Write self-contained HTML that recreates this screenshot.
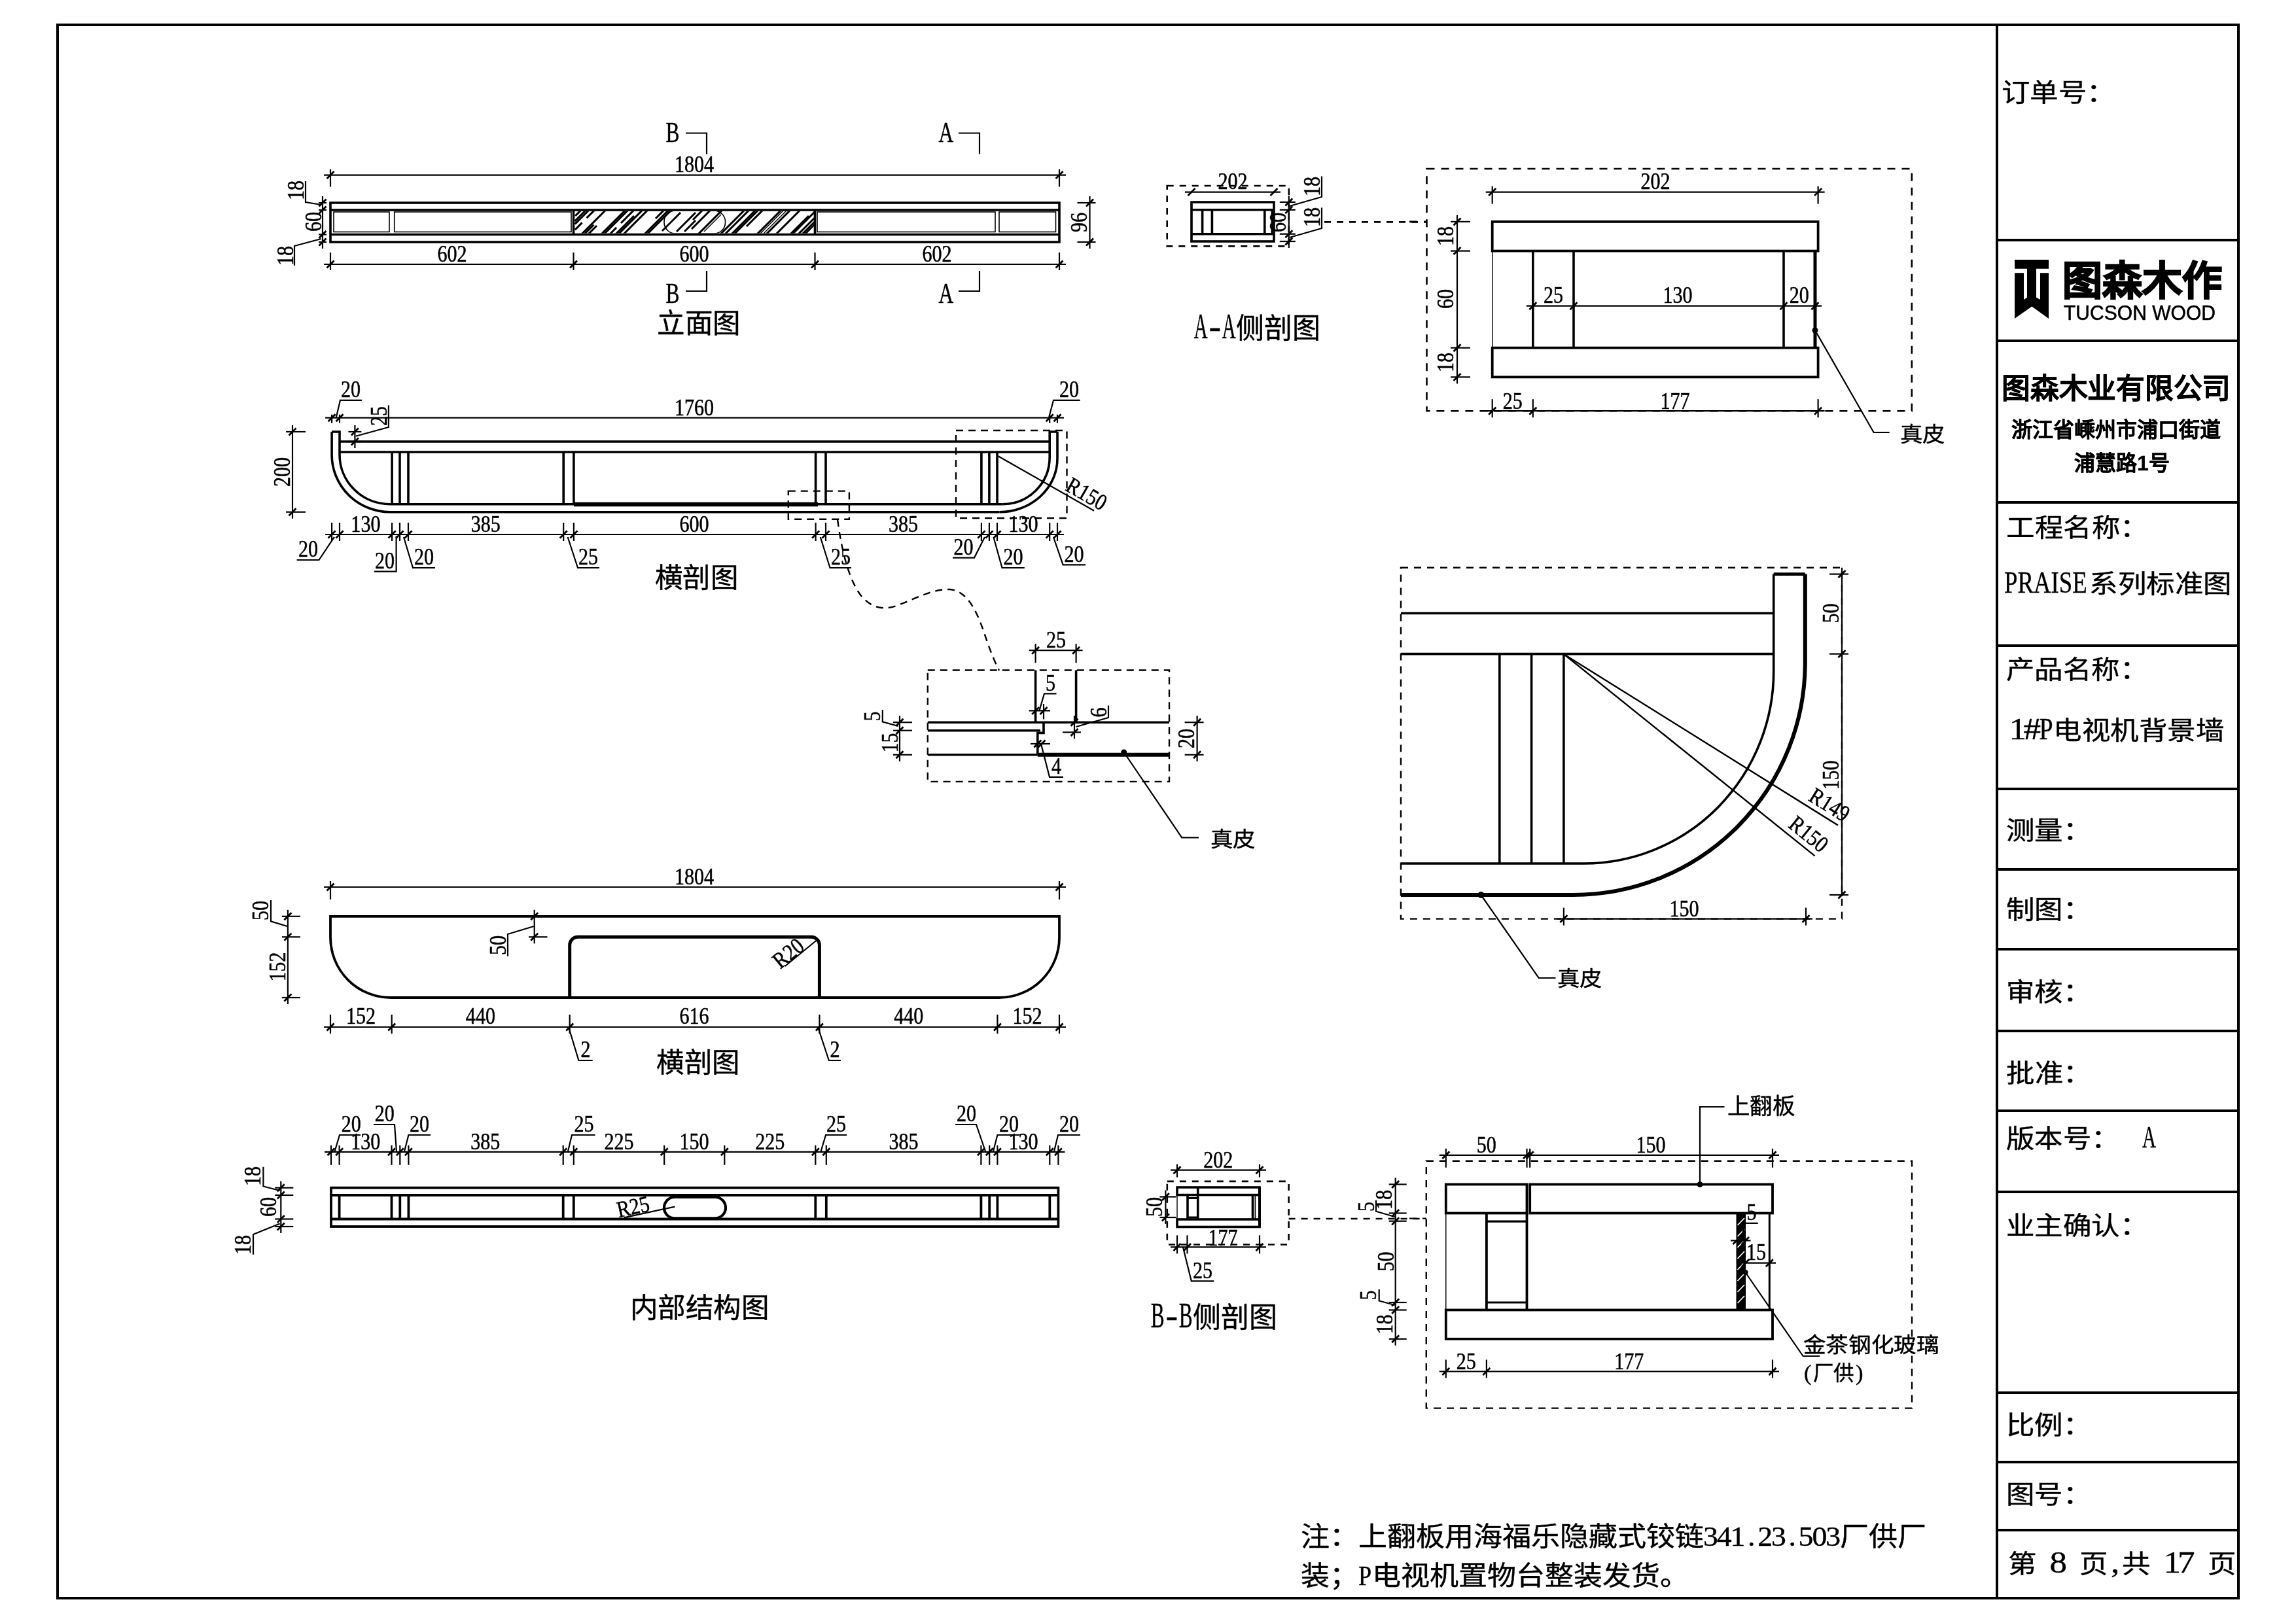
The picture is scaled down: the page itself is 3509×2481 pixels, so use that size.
<!DOCTYPE html>
<html lang="zh-CN"><head><meta charset="utf-8"><style>
html,body{margin:0;padding:0;background:#fff;width:3509px;height:2481px;overflow:hidden}
svg{display:block;will-change:transform}
svg line,svg polyline,svg path,svg rect{stroke:#000;stroke-linecap:butt}
text{fill:#000}
</style></head><body>
<svg width="3509" height="2481" viewBox="0 0 3509 2481">
<rect x="88.0" y="38.0" width="3333.0" height="2405.0" stroke-width="4" fill="none" />
<line x1="3052.0" y1="38.0" x2="3052.0" y2="2443.0" stroke-width="4" />
<line x1="3052.0" y1="367.0" x2="3421.0" y2="367.0" stroke-width="4" />
<line x1="3052.0" y1="521.0" x2="3421.0" y2="521.0" stroke-width="4" />
<line x1="3052.0" y1="768.0" x2="3421.0" y2="768.0" stroke-width="4" />
<line x1="3052.0" y1="987.0" x2="3421.0" y2="987.0" stroke-width="4" />
<line x1="3052.0" y1="1206.0" x2="3421.0" y2="1206.0" stroke-width="4" />
<line x1="3052.0" y1="1329.0" x2="3421.0" y2="1329.0" stroke-width="4" />
<line x1="3052.0" y1="1451.0" x2="3421.0" y2="1451.0" stroke-width="4" />
<line x1="3052.0" y1="1576.0" x2="3421.0" y2="1576.0" stroke-width="4" />
<line x1="3052.0" y1="1698.0" x2="3421.0" y2="1698.0" stroke-width="4" />
<line x1="3052.0" y1="1822.0" x2="3421.0" y2="1822.0" stroke-width="4" />
<line x1="3052.0" y1="2129.0" x2="3421.0" y2="2129.0" stroke-width="4" />
<line x1="3052.0" y1="2235.0" x2="3421.0" y2="2235.0" stroke-width="4" />
<line x1="3052.0" y1="2339.0" x2="3421.0" y2="2339.0" stroke-width="4" />
<text transform="translate(0,154.5) scale(1,0.89)" font-size="43.5" font-family="Liberation Serif" font-weight="normal" stroke="#000" stroke-width="0.45" ><tspan x="3059.0 3102.5 3146.0 3189.5" y="0">订单号：</tspan></text>
<path d="M3079,397H3131V410.8H3079Z M3079,417.2H3093V458L3098,454.7V410.8H3112V454.7L3118,458V417.2H3131V487L3105.3,468.6L3079,487Z" stroke-width="0" fill="#000" stroke="none"/>
<text transform="translate(0,451.2)" font-size="61" font-family="Liberation Sans" font-weight="bold" stroke="#000" stroke-width="2.2" ><tspan x="3152.0 3213.0 3274.0 3335.0" y="0">图森木作</tspan></text>
<text x="3154" y="489" font-size="32" font-family="Liberation Sans" textLength="232" lengthAdjust="spacingAndGlyphs" stroke="#000" stroke-width="0.6">TUCSON WOOD</text>
<text transform="translate(0,608.5)" font-size="43.75" font-family="Liberation Sans" font-weight="bold" stroke="#000" stroke-width="0.4" ><tspan x="3059.0 3102.8 3146.5 3190.2 3234.0 3277.8 3321.5 3365.2" y="0">图森木业有限公司</tspan></text>
<text transform="translate(0,667.6)" font-size="32" font-family="Liberation Sans" font-weight="bold" stroke="#000" stroke-width="0.3" ><tspan x="3074.0 3106.0 3138.0 3170.0 3202.0 3234.0 3266.0 3298.0 3330.0 3362.0" y="0">浙江省嵊州市浦口街道</tspan></text>
<text transform="translate(0,719.4)" font-size="32" font-family="Liberation Sans" font-weight="bold" stroke="#000" stroke-width="0.3" ><tspan x="3170.0 3202.0 3234.0" y="0">浦慧路</tspan><tspan x="3265.9" y="0" font-size="32.0">1</tspan><tspan x="3283.6" y="0">号</tspan></text>
<text transform="translate(0,819.5) scale(1,0.89)" font-size="43.5" font-family="Liberation Serif" font-weight="normal" stroke="#000" stroke-width="0.45" ><tspan x="3066.5 3110.0 3153.5 3197.0 3240.5" y="0">工程名称：</tspan></text>
<text transform="translate(0,905.5) scale(1,0.89)" font-size="43.5" font-family="Liberation Serif" font-weight="normal" stroke="#000" stroke-width="0.45" ><tspan x="3063.0" y="0" font-size="53.1" textLength="126.6" lengthAdjust="spacingAndGlyphs">PRAISE</tspan><tspan x="3193.5 3237.0 3280.5 3324.0 3367.5" y="0">系列标准图</tspan></text>
<text transform="translate(0,1036.5) scale(1,0.89)" font-size="43.5" font-family="Liberation Serif" font-weight="normal" stroke="#000" stroke-width="0.45" ><tspan x="3066.0 3109.5 3153.0 3196.5 3240.0" y="0">产品名称：</tspan></text>
<text transform="translate(0,1130.0) scale(1,0.89)" font-size="43.5" font-family="Liberation Serif" font-weight="normal" stroke="#000" stroke-width="0.45" ><tspan x="3070.6 3092.4" y="0" font-size="53.1">1#</tspan><tspan x="3116.5" y="0" font-size="53.1" textLength="21.1" lengthAdjust="spacingAndGlyphs">P</tspan><tspan x="3138.2 3181.8 3225.2 3268.8 3312.2 3355.8" y="0">电视机背景墙</tspan></text>
<text transform="translate(0,1282.5) scale(1,0.89)" font-size="43.5" font-family="Liberation Serif" font-weight="normal" stroke="#000" stroke-width="0.45" ><tspan x="3066.0 3109.5 3153.0" y="0">测量：</tspan></text>
<text transform="translate(0,1403.5) scale(1,0.89)" font-size="43.5" font-family="Liberation Serif" font-weight="normal" stroke="#000" stroke-width="0.45" ><tspan x="3066.0 3109.5 3153.0" y="0">制图：</tspan></text>
<text transform="translate(0,1529.5) scale(1,0.89)" font-size="43.5" font-family="Liberation Serif" font-weight="normal" stroke="#000" stroke-width="0.45" ><tspan x="3066.0 3109.5 3153.0" y="0">审核：</tspan></text>
<text transform="translate(0,1653.5) scale(1,0.89)" font-size="43.5" font-family="Liberation Serif" font-weight="normal" stroke="#000" stroke-width="0.45" ><tspan x="3066.5 3110.0 3153.5" y="0">批准：</tspan></text>
<text transform="translate(0,1753.5) scale(1,0.89)" font-size="43.5" font-family="Liberation Serif" font-weight="normal" stroke="#000" stroke-width="0.45" ><tspan x="3066.0 3109.5 3153.0 3196.5" y="0">版本号：</tspan></text>
<text transform="translate(0,1753.5) scale(1,0.89)" font-size="43.5" font-family="Liberation Serif" font-weight="normal" stroke="#000" stroke-width="0.45" ><tspan x="3274.0" y="0" font-size="53.1" textLength="21.1" lengthAdjust="spacingAndGlyphs">A</tspan></text>
<text transform="translate(0,1886.5) scale(1,0.89)" font-size="43.5" font-family="Liberation Serif" font-weight="normal" stroke="#000" stroke-width="0.45" ><tspan x="3066.0 3109.5 3153.0 3196.5 3240.0" y="0">业主确认：</tspan></text>
<text transform="translate(0,2191.5) scale(1,0.89)" font-size="43.5" font-family="Liberation Serif" font-weight="normal" stroke="#000" stroke-width="0.45" ><tspan x="3066.0 3109.5 3153.0" y="0">比例：</tspan></text>
<text transform="translate(0,2297.5) scale(1,0.89)" font-size="43.5" font-family="Liberation Serif" font-weight="normal" stroke="#000" stroke-width="0.45" ><tspan x="3066.0 3109.5 3153.0" y="0">图号：</tspan></text>
<text transform="translate(0,2403.5) scale(1,0.89)" font-size="43.5" font-family="Liberation Serif" font-weight="normal" stroke="#000" stroke-width="0.45" ><tspan x="3069.5" y="0">第</tspan><tspan x="3117.2 3132.4 3160.7" y="0" font-size="53.1"> 8 </tspan><tspan x="3178.2" y="0">页</tspan><tspan x="3226.0" y="0" font-size="53.1">,</tspan><tspan x="3243.5" y="0">共</tspan><tspan x="3291.2 3306.4 3328.1 3356.5" y="0" font-size="53.1"> 17 </tspan><tspan x="3374.0" y="0">页</tspan></text>
<text transform="translate(0,2363.0) scale(1,0.92)" font-size="44" font-family="Liberation Serif" font-weight="normal" stroke="#000" stroke-width="0.45" ><tspan x="1988.0 2032.0 2076.0 2120.0 2164.0 2208.0 2252.0 2296.0 2340.0 2384.0 2428.0 2472.0 2516.0 2560.0" y="0">注：上翻板用海福乐隐藏式铰链</tspan><tspan x="2603.0 2623.8 2644.6 2671.1 2686.2 2707.0 2733.6 2748.6 2769.5 2790.3" y="0" font-size="45.8">341.23.503</tspan><tspan x="2812.1 2856.1 2900.1" y="0">厂供厂</tspan></text>
<text transform="translate(0,2423.0) scale(1,0.92)" font-size="44" font-family="Liberation Serif" font-weight="normal" stroke="#000" stroke-width="0.45" ><tspan x="1988.0 2032.0" y="0">装；</tspan><tspan x="2076.0" y="0" font-size="45.8" textLength="20.2" lengthAdjust="spacingAndGlyphs">P</tspan><tspan x="2096.8 2140.8 2184.8 2228.8 2272.8 2316.8 2360.8 2404.8 2448.8 2492.8 2536.8" y="0">电视机置物台整装发货。</tspan></text>
<rect x="505.0" y="310.0" width="1114.0" height="60.0" stroke-width="3.6" fill="none" />
<line x1="505.0" y1="321.0" x2="1619.0" y2="321.0" stroke-width="3.6" />
<line x1="505.0" y1="358.5" x2="1619.0" y2="358.5" stroke-width="3.6" />
<line x1="876.5" y1="321.0" x2="876.5" y2="358.5" stroke-width="3.6" />
<line x1="1245.5" y1="321.0" x2="1245.5" y2="358.5" stroke-width="3.6" />
<rect x="510.0" y="324.0" width="85.0" height="30.5" stroke-width="1.6" fill="none" />
<rect x="602.7" y="324.0" width="270.3" height="30.5" stroke-width="1.6" fill="none" />
<rect x="1249.0" y="324.0" width="272.0" height="30.5" stroke-width="1.6" fill="none" />
<rect x="1527.0" y="324.0" width="86.5" height="30.5" stroke-width="1.6" fill="none" />
<clipPath id="hc"><rect x="878" y="323" width="366" height="33.5"/></clipPath>
<g clip-path="url(#hc)"><line x1="879.2" y1="330.0" x2="889.2" y2="320.0" stroke-width="3"/><line x1="878.6" y1="338.0" x2="896.6" y2="320.0" stroke-width="3"/><line x1="896.6" y1="333.3" x2="909.9" y2="320.0" stroke-width="3"/><line x1="878.9" y1="351.1" x2="889.6" y2="340.4" stroke-width="3"/><line x1="878.8" y1="342.4" x2="901.2" y2="320.0" stroke-width="3"/><line x1="886.8" y1="360.0" x2="926.8" y2="320.0" stroke-width="3"/><line x1="891.0" y1="360.0" x2="907.3" y2="343.7" stroke-width="3"/><line x1="897.0" y1="360.0" x2="912.0" y2="345.0" stroke-width="3"/><line x1="917.0" y1="360.0" x2="957.0" y2="320.0" stroke-width="3"/><line x1="921.0" y1="360.0" x2="961.0" y2="320.0" stroke-width="3"/><line x1="930.0" y1="360.0" x2="942.2" y2="347.8" stroke-width="3"/><line x1="939.0" y1="360.0" x2="969.0" y2="330.0" stroke-width="3"/><line x1="943.0" y1="360.0" x2="983.0" y2="320.0" stroke-width="3"/><line x1="949.0" y1="341.0" x2="970.0" y2="320.0" stroke-width="3"/><line x1="951.0" y1="360.0" x2="991.0" y2="320.0" stroke-width="3"/><line x1="983.0" y1="360.0" x2="1023.0" y2="320.0" stroke-width="3"/><line x1="987.0" y1="360.0" x2="1027.0" y2="320.0" stroke-width="3"/><line x1="1002.0" y1="334.0" x2="1016.0" y2="320.0" stroke-width="3"/><line x1="1012.0" y1="353.0" x2="1040.0" y2="325.0" stroke-width="3"/><line x1="1034.0" y1="354.0" x2="1063.0" y2="325.0" stroke-width="3"/><line x1="1046.0" y1="354.0" x2="1063.0" y2="337.0" stroke-width="3"/><line x1="1059.0" y1="336.0" x2="1075.0" y2="320.0" stroke-width="3"/><line x1="1057.0" y1="350.0" x2="1087.0" y2="320.0" stroke-width="3"/><line x1="1065.0" y1="360.0" x2="1105.0" y2="320.0" stroke-width="3"/><line x1="1076.0" y1="354.0" x2="1102.0" y2="328.0" stroke-width="1.4"/><line x1="1099.0" y1="360.0" x2="1139.0" y2="320.0" stroke-width="3"/><line x1="1106.0" y1="360.0" x2="1146.0" y2="320.0" stroke-width="3"/><line x1="1116.0" y1="360.0" x2="1156.0" y2="320.0" stroke-width="3"/><line x1="1120.0" y1="360.0" x2="1160.0" y2="320.0" stroke-width="3"/><line x1="1141.0" y1="346.0" x2="1167.0" y2="320.0" stroke-width="3"/><line x1="1155.0" y1="360.0" x2="1195.0" y2="320.0" stroke-width="3"/><line x1="1159.0" y1="360.0" x2="1199.0" y2="320.0" stroke-width="1.4"/><line x1="1164.0" y1="360.0" x2="1204.0" y2="320.0" stroke-width="1.4"/><line x1="1169.0" y1="360.0" x2="1209.0" y2="320.0" stroke-width="3"/><line x1="1184.0" y1="360.0" x2="1224.0" y2="320.0" stroke-width="3"/><line x1="1206.0" y1="360.0" x2="1236.0" y2="330.0" stroke-width="3"/><line x1="1209.0" y1="360.0" x2="1249.0" y2="320.0" stroke-width="3"/><line x1="1218.0" y1="360.0" x2="1258.0" y2="320.0" stroke-width="3"/><line x1="1224.0" y1="360.0" x2="1264.0" y2="320.0" stroke-width="3"/><line x1="1228.0" y1="360.0" x2="1268.0" y2="320.0" stroke-width="3"/><rect x="1015" y="322" width="93.5" height="35" rx="17" ry="17" fill="none" stroke="#000" stroke-width="1.6"/></g>
<line x1="495.0" y1="267.6" x2="1629.0" y2="267.6" stroke-width="2.2" />
<line x1="505.0" y1="258.6" x2="505.0" y2="285.6" stroke-width="2.2" />
<line x1="499.5" y1="273.1" x2="510.5" y2="262.1" stroke-width="2.8" />
<line x1="1619.0" y1="258.6" x2="1619.0" y2="285.6" stroke-width="2.2" />
<line x1="1613.5" y1="273.1" x2="1624.5" y2="262.1" stroke-width="2.8" />
<text transform="translate(1061.0,263.0) scale(0.86,1)" font-size="35" text-anchor="middle" font-family="Liberation Serif" font-weight="normal" stroke="#000" stroke-width="0.55" >1804</text>
<line x1="495.0" y1="404.0" x2="1629.0" y2="404.0" stroke-width="2.2" />
<line x1="505.0" y1="386.0" x2="505.0" y2="413.0" stroke-width="2.2" />
<line x1="499.5" y1="409.5" x2="510.5" y2="398.5" stroke-width="2.8" />
<line x1="876.5" y1="386.0" x2="876.5" y2="413.0" stroke-width="2.2" />
<line x1="871.0" y1="409.5" x2="882.0" y2="398.5" stroke-width="2.8" />
<line x1="1245.5" y1="386.0" x2="1245.5" y2="413.0" stroke-width="2.2" />
<line x1="1240.0" y1="409.5" x2="1251.0" y2="398.5" stroke-width="2.8" />
<line x1="1619.0" y1="386.0" x2="1619.0" y2="413.0" stroke-width="2.2" />
<line x1="1613.5" y1="409.5" x2="1624.5" y2="398.5" stroke-width="2.8" />
<text transform="translate(691.0,400.0) scale(0.86,1)" font-size="35" text-anchor="middle" font-family="Liberation Serif" font-weight="normal" stroke="#000" stroke-width="0.55" >602</text>
<text transform="translate(1061.0,400.0) scale(0.86,1)" font-size="35" text-anchor="middle" font-family="Liberation Serif" font-weight="normal" stroke="#000" stroke-width="0.55" >600</text>
<text transform="translate(1432.0,400.0) scale(0.86,1)" font-size="35" text-anchor="middle" font-family="Liberation Serif" font-weight="normal" stroke="#000" stroke-width="0.55" >602</text>
<line x1="1665.5" y1="300.0" x2="1665.5" y2="380.0" stroke-width="2.2" />
<line x1="1646.5" y1="310.0" x2="1674.5" y2="310.0" stroke-width="2.2" />
<line x1="1660.0" y1="315.5" x2="1671.0" y2="304.5" stroke-width="2.8" />
<line x1="1646.5" y1="370.0" x2="1674.5" y2="370.0" stroke-width="2.2" />
<line x1="1660.0" y1="375.5" x2="1671.0" y2="364.5" stroke-width="2.8" />
<text transform="translate(1661.0,340.0) rotate(-90) scale(0.86,1)" font-size="35" text-anchor="middle" font-family="Liberation Serif" font-weight="normal" stroke="#000" stroke-width="0.55" >96</text>
<line x1="493.0" y1="300.0" x2="493.0" y2="380.0" stroke-width="2.2" />
<line x1="487.0" y1="310.0" x2="499.0" y2="310.0" stroke-width="2.2" />
<line x1="487.5" y1="315.5" x2="498.5" y2="304.5" stroke-width="2.8" />
<line x1="487.0" y1="321.0" x2="499.0" y2="321.0" stroke-width="2.2" />
<line x1="487.5" y1="326.5" x2="498.5" y2="315.5" stroke-width="2.8" />
<line x1="487.0" y1="358.5" x2="499.0" y2="358.5" stroke-width="2.2" />
<line x1="487.5" y1="364.0" x2="498.5" y2="353.0" stroke-width="2.8" />
<line x1="487.0" y1="370.0" x2="499.0" y2="370.0" stroke-width="2.2" />
<line x1="487.5" y1="375.5" x2="498.5" y2="364.5" stroke-width="2.8" />
<polyline points="467.0,277.0 467.0,309.0 491.0,313.0" stroke-width="2.2" fill="none" />
<text transform="translate(464.0,291.0) rotate(-90) scale(0.86,1)" font-size="35" text-anchor="middle" font-family="Liberation Serif" font-weight="normal" stroke="#000" stroke-width="0.55" >18</text>
<text transform="translate(491.0,339.0) rotate(-90) scale(0.86,1)" font-size="35" text-anchor="middle" font-family="Liberation Serif" font-weight="normal" stroke="#000" stroke-width="0.55" >60</text>
<polyline points="450.0,406.0 450.0,376.0 491.0,365.0" stroke-width="2.2" fill="none" />
<text transform="translate(448.0,391.0) rotate(-90) scale(0.86,1)" font-size="35" text-anchor="middle" font-family="Liberation Serif" font-weight="normal" stroke="#000" stroke-width="0.55" >18</text>
<polyline points="1048.0,203.5 1080.0,203.5 1080.0,235.5" stroke-width="2.2" fill="none" />
<polyline points="1048.0,445.0 1080.0,445.0 1080.0,414.0" stroke-width="2.2" fill="none" />
<text transform="translate(1017.5,217.0) scale(0.7,1)" font-size="45" text-anchor="start" font-family="Liberation Serif" font-weight="normal" stroke="#000" stroke-width="0.55" >B</text>
<text transform="translate(1017.5,463.0) scale(0.7,1)" font-size="45" text-anchor="start" font-family="Liberation Serif" font-weight="normal" stroke="#000" stroke-width="0.55" >B</text>
<polyline points="1465.0,203.5 1497.0,203.5 1497.0,235.5" stroke-width="2.2" fill="none" />
<polyline points="1465.0,445.0 1497.0,445.0 1497.0,414.0" stroke-width="2.2" fill="none" />
<text transform="translate(1434.5,217.0) scale(0.7,1)" font-size="45" text-anchor="start" font-family="Liberation Serif" font-weight="normal" stroke="#000" stroke-width="0.55" >A</text>
<text transform="translate(1434.5,463.0) scale(0.7,1)" font-size="45" text-anchor="start" font-family="Liberation Serif" font-weight="normal" stroke="#000" stroke-width="0.55" >A</text>
<text transform="translate(0,508.7)" font-size="42.5" font-family="Liberation Serif" font-weight="normal" stroke="#000" stroke-width="0.45" ><tspan x="1004.0 1046.5 1089.0" y="0">立面图</tspan></text>
<rect x="1783.7" y="284.0" width="186.1" height="92.4" stroke-width="2.6" fill="none" stroke-dasharray="10 9"/>
<rect x="1821.0" y="309.0" width="126.0" height="60.0" stroke-width="3.6" fill="none" />
<line x1="1821.0" y1="320.8" x2="1947.0" y2="320.8" stroke-width="3.6" />
<line x1="1821.0" y1="357.7" x2="1947.0" y2="357.7" stroke-width="3.6" />
<line x1="1837.6" y1="320.8" x2="1837.6" y2="357.7" stroke-width="3.6" />
<line x1="1852.4" y1="320.8" x2="1852.4" y2="357.7" stroke-width="3.6" />
<line x1="1932.8" y1="320.8" x2="1932.8" y2="357.7" stroke-width="3.6" />
<line x1="1944.0" y1="320.8" x2="1944.0" y2="357.7" stroke-width="3.0" />
<line x1="1811.0" y1="293.6" x2="1957.0" y2="293.6" stroke-width="2.2" />
<line x1="1815.5" y1="299.1" x2="1826.5" y2="288.1" stroke-width="2.8" />
<line x1="1941.5" y1="299.1" x2="1952.5" y2="288.1" stroke-width="2.8" />
<text transform="translate(1884.0,289.0) scale(0.86,1)" font-size="35" text-anchor="middle" font-family="Liberation Serif" font-weight="normal" stroke="#000" stroke-width="0.55" >202</text>
<line x1="1969.8" y1="299.0" x2="1969.8" y2="379.0" stroke-width="2.2" />
<line x1="1955.8" y1="309.0" x2="1979.8" y2="309.0" stroke-width="2.2" />
<line x1="1964.3" y1="314.5" x2="1975.3" y2="303.5" stroke-width="2.8" />
<line x1="1955.8" y1="320.8" x2="1979.8" y2="320.8" stroke-width="2.2" />
<line x1="1964.3" y1="326.3" x2="1975.3" y2="315.3" stroke-width="2.8" />
<line x1="1955.8" y1="357.7" x2="1979.8" y2="357.7" stroke-width="2.2" />
<line x1="1964.3" y1="363.2" x2="1975.3" y2="352.2" stroke-width="2.8" />
<line x1="1955.8" y1="369.0" x2="1979.8" y2="369.0" stroke-width="2.2" />
<line x1="1964.3" y1="374.5" x2="1975.3" y2="363.5" stroke-width="2.8" />
<text transform="translate(1965.0,340.0) rotate(-90) scale(0.86,1)" font-size="35" text-anchor="middle" font-family="Liberation Serif" font-weight="normal" stroke="#000" stroke-width="0.55" >60</text>
<polyline points="2020.0,269.6 2020.0,301.0 1971.0,315.0" stroke-width="2.2" fill="none" />
<text transform="translate(2017.0,285.0) rotate(-90) scale(0.86,1)" font-size="35" text-anchor="middle" font-family="Liberation Serif" font-weight="normal" stroke="#000" stroke-width="0.55" >18</text>
<polyline points="2020.0,317.6 2020.0,349.0 1971.0,363.0" stroke-width="2.2" fill="none" />
<text transform="translate(2017.0,332.0) rotate(-90) scale(0.86,1)" font-size="35" text-anchor="middle" font-family="Liberation Serif" font-weight="normal" stroke="#000" stroke-width="0.55" >18</text>
<line x1="2024.0" y1="339.4" x2="2180.0" y2="339.4" stroke-width="2.6" stroke-dasharray="10 9"/>
<text transform="translate(0,517.1)" font-size="43" font-family="Liberation Serif" font-weight="normal" stroke="#000" stroke-width="0.45" ><tspan x="1824.7" y="0" font-size="55.9" textLength="20.9" lengthAdjust="spacingAndGlyphs">A</tspan><tspan x="1847.6" y="0" font-size="55.9">-</tspan><tspan x="1867.7" y="0" font-size="55.9" textLength="20.9" lengthAdjust="spacingAndGlyphs">A</tspan><tspan x="1889.2 1932.2 1975.2" y="0">侧剖图</tspan></text>
<rect x="2180.5" y="258.0" width="741.3" height="370.3" stroke-width="2.6" fill="none" stroke-dasharray="12 10"/>
<line x1="2154.0" y1="338.9" x2="2180.5" y2="338.9" stroke-width="2.6" stroke-dasharray="12 10"/>
<rect x="2280.7" y="338.9" width="497.9" height="44.7" stroke-width="3.8" fill="none" />
<rect x="2280.7" y="531.7" width="497.9" height="44.7" stroke-width="3.8" fill="none" />
<line x1="2280.7" y1="383.6" x2="2280.7" y2="531.7" stroke-width="1.4" />
<line x1="2342.8" y1="383.6" x2="2342.8" y2="531.7" stroke-width="3.6" />
<line x1="2405.0" y1="383.6" x2="2405.0" y2="531.7" stroke-width="3.6" />
<line x1="2726.0" y1="383.6" x2="2726.0" y2="531.7" stroke-width="3.6" />
<line x1="2774.0" y1="383.6" x2="2774.0" y2="531.7" stroke-width="5.0" />
<line x1="2270.7" y1="293.6" x2="2788.6" y2="293.6" stroke-width="2.2" />
<line x1="2280.7" y1="284.6" x2="2280.7" y2="311.6" stroke-width="2.2" />
<line x1="2275.2" y1="299.1" x2="2286.2" y2="288.1" stroke-width="2.8" />
<line x1="2778.6" y1="284.6" x2="2778.6" y2="311.6" stroke-width="2.2" />
<line x1="2773.1" y1="299.1" x2="2784.1" y2="288.1" stroke-width="2.8" />
<text transform="translate(2530.0,289.0) scale(0.86,1)" font-size="35" text-anchor="middle" font-family="Liberation Serif" font-weight="normal" stroke="#000" stroke-width="0.55" >202</text>
<line x1="2227.0" y1="328.9" x2="2227.0" y2="586.4" stroke-width="2.2" />
<line x1="2217.0" y1="338.9" x2="2247.0" y2="338.9" stroke-width="2.2" />
<line x1="2221.5" y1="344.4" x2="2232.5" y2="333.4" stroke-width="2.8" />
<line x1="2217.0" y1="383.6" x2="2247.0" y2="383.6" stroke-width="2.2" />
<line x1="2221.5" y1="389.1" x2="2232.5" y2="378.1" stroke-width="2.8" />
<line x1="2217.0" y1="531.7" x2="2247.0" y2="531.7" stroke-width="2.2" />
<line x1="2221.5" y1="537.2" x2="2232.5" y2="526.2" stroke-width="2.8" />
<line x1="2217.0" y1="576.4" x2="2247.0" y2="576.4" stroke-width="2.2" />
<line x1="2221.5" y1="581.9" x2="2232.5" y2="570.9" stroke-width="2.8" />
<text transform="translate(2221.0,361.0) rotate(-90) scale(0.86,1)" font-size="35" text-anchor="middle" font-family="Liberation Serif" font-weight="normal" stroke="#000" stroke-width="0.55" >18</text>
<text transform="translate(2221.0,457.0) rotate(-90) scale(0.86,1)" font-size="35" text-anchor="middle" font-family="Liberation Serif" font-weight="normal" stroke="#000" stroke-width="0.55" >60</text>
<text transform="translate(2221.0,554.0) rotate(-90) scale(0.86,1)" font-size="35" text-anchor="middle" font-family="Liberation Serif" font-weight="normal" stroke="#000" stroke-width="0.55" >18</text>
<line x1="2332.8" y1="467.7" x2="2784.0" y2="467.7" stroke-width="2.2" />
<line x1="2337.3" y1="473.2" x2="2348.3" y2="462.2" stroke-width="2.8" />
<line x1="2399.5" y1="473.2" x2="2410.5" y2="462.2" stroke-width="2.8" />
<line x1="2720.5" y1="473.2" x2="2731.5" y2="462.2" stroke-width="2.8" />
<line x1="2768.5" y1="473.2" x2="2779.5" y2="462.2" stroke-width="2.8" />
<text transform="translate(2374.0,462.6) scale(0.86,1)" font-size="35" text-anchor="middle" font-family="Liberation Serif" font-weight="normal" stroke="#000" stroke-width="0.55" >25</text>
<text transform="translate(2564.0,462.6) scale(0.86,1)" font-size="35" text-anchor="middle" font-family="Liberation Serif" font-weight="normal" stroke="#000" stroke-width="0.55" >130</text>
<text transform="translate(2749.7,462.6) scale(0.86,1)" font-size="35" text-anchor="middle" font-family="Liberation Serif" font-weight="normal" stroke="#000" stroke-width="0.55" >20</text>
<line x1="2270.7" y1="628.2" x2="2788.6" y2="628.2" stroke-width="2.2" />
<line x1="2280.7" y1="610.2" x2="2280.7" y2="638.2" stroke-width="2.2" />
<line x1="2275.2" y1="633.7" x2="2286.2" y2="622.7" stroke-width="2.8" />
<line x1="2342.8" y1="610.2" x2="2342.8" y2="638.2" stroke-width="2.2" />
<line x1="2337.3" y1="633.7" x2="2348.3" y2="622.7" stroke-width="2.8" />
<line x1="2778.6" y1="610.2" x2="2778.6" y2="638.2" stroke-width="2.2" />
<line x1="2773.1" y1="633.7" x2="2784.1" y2="622.7" stroke-width="2.8" />
<text transform="translate(2311.7,625.0) scale(0.86,1)" font-size="35" text-anchor="middle" font-family="Liberation Serif" font-weight="normal" stroke="#000" stroke-width="0.55" >25</text>
<text transform="translate(2560.0,625.0) scale(0.86,1)" font-size="35" text-anchor="middle" font-family="Liberation Serif" font-weight="normal" stroke="#000" stroke-width="0.55" >177</text>
<circle cx="2774.0" cy="505.0" r="4.5" fill="#000" stroke="none"/>
<polyline points="2774.0,505.0 2863.6,661.0 2887.7,661.0" stroke-width="2.2" fill="none" />
<text transform="translate(0,674.7) scale(1,0.92)" font-size="34.5" font-family="Liberation Serif" font-weight="normal" stroke="#000" stroke-width="0.45" ><tspan x="2904.0 2938.5" y="0">真皮</tspan></text>
<line x1="519.0" y1="675.0" x2="1604.2" y2="675.0" stroke-width="3.6" />
<line x1="519.0" y1="691.0" x2="1604.2" y2="691.0" stroke-width="3.6" />
<path d="M507.1,660 H519 V695 A77,75.7 0 0 0 596,770.7" stroke-width="3.6" fill="none" />
<path d="M507.1,660 V695 A88.9,87.5 0 0 0 596,782.7" stroke-width="3.6" fill="none" />
<path d="M1616,660 H1604.2 V699 A71.8,71.7 0 0 1 1532.4,770.7" stroke-width="3.6" fill="none" />
<path d="M1616,660 V701 A88.5,81.7 0 0 1 1527.5,782.7" stroke-width="3.6" fill="none" />
<line x1="596.0" y1="770.7" x2="1532.4" y2="770.7" stroke-width="3.6" />
<line x1="596.0" y1="782.7" x2="1527.5" y2="782.7" stroke-width="3.6" />
<line x1="877.0" y1="771.0" x2="1250.0" y2="771.0" stroke-width="6.5" />
<line x1="599.1" y1="691.0" x2="599.1" y2="770.7" stroke-width="3.6" />
<line x1="611.0" y1="691.0" x2="611.0" y2="770.7" stroke-width="3.6" />
<line x1="624.0" y1="691.0" x2="624.0" y2="770.7" stroke-width="3.6" />
<line x1="861.2" y1="691.0" x2="861.2" y2="770.7" stroke-width="3.6" />
<line x1="876.9" y1="691.0" x2="876.9" y2="770.7" stroke-width="3.6" />
<line x1="1246.6" y1="691.0" x2="1246.6" y2="770.7" stroke-width="3.6" />
<line x1="1262.0" y1="691.0" x2="1262.0" y2="770.7" stroke-width="3.6" />
<line x1="1499.9" y1="691.0" x2="1499.9" y2="770.7" stroke-width="3.6" />
<line x1="1511.9" y1="691.0" x2="1511.9" y2="770.7" stroke-width="3.6" />
<line x1="1524.0" y1="691.0" x2="1524.0" y2="770.7" stroke-width="3.6" />
<rect x="1204.8" y="750.6" width="93.1" height="43.2" stroke-width="2.4" fill="none" stroke-dasharray="11 8"/>
<rect x="1461.0" y="658.0" width="169.5" height="134.0" stroke-width="2.4" fill="none" stroke-dasharray="11 8"/>
<line x1="1525.5" y1="697.2" x2="1672.0" y2="780.7" stroke-width="2.2" />
<text transform="translate(1655.0,765.0) rotate(29.8) scale(0.86,1)" font-size="35" text-anchor="middle" font-family="Liberation Serif" font-weight="normal" stroke="#000" stroke-width="0.55" >R150</text>
<line x1="497.1" y1="638.7" x2="1626.0" y2="638.7" stroke-width="2.2" />
<line x1="507.1" y1="633.7" x2="507.1" y2="646.7" stroke-width="2.2" />
<line x1="501.6" y1="644.2" x2="512.6" y2="633.2" stroke-width="2.8" />
<line x1="519.0" y1="633.7" x2="519.0" y2="646.7" stroke-width="2.2" />
<line x1="513.5" y1="644.2" x2="524.5" y2="633.2" stroke-width="2.8" />
<line x1="1604.2" y1="633.7" x2="1604.2" y2="646.7" stroke-width="2.2" />
<line x1="1598.7" y1="644.2" x2="1609.7" y2="633.2" stroke-width="2.8" />
<line x1="1616.0" y1="633.7" x2="1616.0" y2="646.7" stroke-width="2.2" />
<line x1="1610.5" y1="644.2" x2="1621.5" y2="633.2" stroke-width="2.8" />
<text transform="translate(1061.0,634.7) scale(0.86,1)" font-size="35" text-anchor="middle" font-family="Liberation Serif" font-weight="normal" stroke="#000" stroke-width="0.55" >1760</text>
<polyline points="552.9,611.8 520.0,611.8 513.7,638.5" stroke-width="2.2" fill="none" />
<text transform="translate(536.0,607.0) scale(0.86,1)" font-size="35" text-anchor="middle" font-family="Liberation Serif" font-weight="normal" stroke="#000" stroke-width="0.55" >20</text>
<polyline points="1650.7,611.8 1610.0,611.8 1603.0,638.5" stroke-width="2.2" fill="none" />
<text transform="translate(1634.0,607.0) scale(0.86,1)" font-size="35" text-anchor="middle" font-family="Liberation Serif" font-weight="normal" stroke="#000" stroke-width="0.55" >20</text>
<line x1="542.4" y1="650.0" x2="542.4" y2="685.0" stroke-width="2.2" />
<line x1="532.4" y1="660.0" x2="552.4" y2="660.0" stroke-width="2.2" />
<line x1="536.9" y1="665.5" x2="547.9" y2="654.5" stroke-width="2.8" />
<line x1="532.4" y1="675.0" x2="552.4" y2="675.0" stroke-width="2.2" />
<line x1="536.9" y1="680.5" x2="547.9" y2="669.5" stroke-width="2.8" />
<polyline points="593.9,619.6 593.9,653.0 543.7,666.7" stroke-width="2.2" fill="none" />
<text transform="translate(591.0,636.0) rotate(-90) scale(0.86,1)" font-size="35" text-anchor="middle" font-family="Liberation Serif" font-weight="normal" stroke="#000" stroke-width="0.55" >25</text>
<line x1="447.0" y1="650.0" x2="447.0" y2="792.7" stroke-width="2.2" />
<line x1="437.0" y1="660.0" x2="467.0" y2="660.0" stroke-width="2.2" />
<line x1="441.5" y1="665.5" x2="452.5" y2="654.5" stroke-width="2.8" />
<line x1="437.0" y1="782.7" x2="467.0" y2="782.7" stroke-width="2.2" />
<line x1="441.5" y1="788.2" x2="452.5" y2="777.2" stroke-width="2.8" />
<text transform="translate(443.0,721.5) rotate(-90) scale(0.86,1)" font-size="35" text-anchor="middle" font-family="Liberation Serif" font-weight="normal" stroke="#000" stroke-width="0.55" >200</text>
<line x1="497.1" y1="817.0" x2="1626.0" y2="817.0" stroke-width="2.2" />
<line x1="507.1" y1="799.0" x2="507.1" y2="827.0" stroke-width="2.2" />
<line x1="501.6" y1="822.5" x2="512.6" y2="811.5" stroke-width="2.8" />
<line x1="519.0" y1="799.0" x2="519.0" y2="827.0" stroke-width="2.2" />
<line x1="513.5" y1="822.5" x2="524.5" y2="811.5" stroke-width="2.8" />
<line x1="599.1" y1="799.0" x2="599.1" y2="827.0" stroke-width="2.2" />
<line x1="593.6" y1="822.5" x2="604.6" y2="811.5" stroke-width="2.8" />
<line x1="611.0" y1="799.0" x2="611.0" y2="827.0" stroke-width="2.2" />
<line x1="605.5" y1="822.5" x2="616.5" y2="811.5" stroke-width="2.8" />
<line x1="624.0" y1="799.0" x2="624.0" y2="827.0" stroke-width="2.2" />
<line x1="618.5" y1="822.5" x2="629.5" y2="811.5" stroke-width="2.8" />
<line x1="861.2" y1="799.0" x2="861.2" y2="827.0" stroke-width="2.2" />
<line x1="855.7" y1="822.5" x2="866.7" y2="811.5" stroke-width="2.8" />
<line x1="876.9" y1="799.0" x2="876.9" y2="827.0" stroke-width="2.2" />
<line x1="871.4" y1="822.5" x2="882.4" y2="811.5" stroke-width="2.8" />
<line x1="1246.6" y1="799.0" x2="1246.6" y2="827.0" stroke-width="2.2" />
<line x1="1241.1" y1="822.5" x2="1252.1" y2="811.5" stroke-width="2.8" />
<line x1="1262.0" y1="799.0" x2="1262.0" y2="827.0" stroke-width="2.2" />
<line x1="1256.5" y1="822.5" x2="1267.5" y2="811.5" stroke-width="2.8" />
<line x1="1499.9" y1="799.0" x2="1499.9" y2="827.0" stroke-width="2.2" />
<line x1="1494.4" y1="822.5" x2="1505.4" y2="811.5" stroke-width="2.8" />
<line x1="1511.9" y1="799.0" x2="1511.9" y2="827.0" stroke-width="2.2" />
<line x1="1506.4" y1="822.5" x2="1517.4" y2="811.5" stroke-width="2.8" />
<line x1="1524.0" y1="799.0" x2="1524.0" y2="827.0" stroke-width="2.2" />
<line x1="1518.5" y1="822.5" x2="1529.5" y2="811.5" stroke-width="2.8" />
<line x1="1604.2" y1="799.0" x2="1604.2" y2="827.0" stroke-width="2.2" />
<line x1="1598.7" y1="822.5" x2="1609.7" y2="811.5" stroke-width="2.8" />
<line x1="1616.0" y1="799.0" x2="1616.0" y2="827.0" stroke-width="2.2" />
<line x1="1610.5" y1="822.5" x2="1621.5" y2="811.5" stroke-width="2.8" />
<text transform="translate(558.9,813.0) scale(0.86,1)" font-size="35" text-anchor="middle" font-family="Liberation Serif" font-weight="normal" stroke="#000" stroke-width="0.55" >130</text>
<text transform="translate(742.3,813.0) scale(0.86,1)" font-size="35" text-anchor="middle" font-family="Liberation Serif" font-weight="normal" stroke="#000" stroke-width="0.55" >385</text>
<text transform="translate(1061.0,813.0) scale(0.86,1)" font-size="35" text-anchor="middle" font-family="Liberation Serif" font-weight="normal" stroke="#000" stroke-width="0.55" >600</text>
<text transform="translate(1380.5,813.0) scale(0.86,1)" font-size="35" text-anchor="middle" font-family="Liberation Serif" font-weight="normal" stroke="#000" stroke-width="0.55" >385</text>
<text transform="translate(1564.0,813.0) scale(0.86,1)" font-size="35" text-anchor="middle" font-family="Liberation Serif" font-weight="normal" stroke="#000" stroke-width="0.55" >130</text>
<polyline points="453.6,856.0 487.5,856.0 511.0,820.8" stroke-width="2.2" fill="none" />
<text transform="translate(471.0,851.0) scale(0.86,1)" font-size="35" text-anchor="middle" font-family="Liberation Serif" font-weight="normal" stroke="#000" stroke-width="0.55" >20</text>
<polyline points="572.0,873.6 605.6,873.6 605.6,819.5" stroke-width="2.2" fill="none" />
<text transform="translate(588.0,869.0) scale(0.86,1)" font-size="35" text-anchor="middle" font-family="Liberation Serif" font-weight="normal" stroke="#000" stroke-width="0.55" >20</text>
<polyline points="665.0,868.0 631.0,868.0 617.0,821.0" stroke-width="2.2" fill="none" />
<text transform="translate(648.0,863.0) scale(0.86,1)" font-size="35" text-anchor="middle" font-family="Liberation Serif" font-weight="normal" stroke="#000" stroke-width="0.55" >20</text>
<polyline points="916.0,868.0 883.0,868.0 867.7,821.0" stroke-width="2.2" fill="none" />
<text transform="translate(899.0,863.0) scale(0.86,1)" font-size="35" text-anchor="middle" font-family="Liberation Serif" font-weight="normal" stroke="#000" stroke-width="0.55" >25</text>
<polyline points="1301.0,868.0 1268.5,868.0 1253.8,821.0" stroke-width="2.2" fill="none" />
<text transform="translate(1285.0,863.0) scale(0.86,1)" font-size="35" text-anchor="middle" font-family="Liberation Serif" font-weight="normal" stroke="#000" stroke-width="0.55" >25</text>
<polyline points="1456.0,852.6 1489.0,852.6 1505.0,821.0" stroke-width="2.2" fill="none" />
<text transform="translate(1472.5,848.0) scale(0.86,1)" font-size="35" text-anchor="middle" font-family="Liberation Serif" font-weight="normal" stroke="#000" stroke-width="0.55" >20</text>
<polyline points="1565.8,868.0 1531.5,868.0 1518.4,821.0" stroke-width="2.2" fill="none" />
<text transform="translate(1548.5,863.0) scale(0.86,1)" font-size="35" text-anchor="middle" font-family="Liberation Serif" font-weight="normal" stroke="#000" stroke-width="0.55" >20</text>
<polyline points="1659.0,863.3 1624.6,863.3 1610.0,821.0" stroke-width="2.2" fill="none" />
<text transform="translate(1641.5,859.0) scale(0.86,1)" font-size="35" text-anchor="middle" font-family="Liberation Serif" font-weight="normal" stroke="#000" stroke-width="0.55" >20</text>
<text transform="translate(0,897.7)" font-size="42.5" font-family="Liberation Serif" font-weight="normal" stroke="#000" stroke-width="0.45" ><tspan x="1000.6 1043.1 1085.6" y="0">横剖图</tspan></text>
<path d="M1280,794 C1286,840 1296,880 1312,905 C1325,925 1345,935 1370,926 C1400,915 1425,900 1452,901 C1480,903 1495,940 1505,970 C1515,1000 1522,1015 1527,1025" stroke-width="2.4" fill="none" stroke-dasharray="11 8"/>
<rect x="1417.8" y="1024.5" width="369.2" height="170.4" stroke-width="2.4" fill="none" stroke-dasharray="11 8"/>
<line x1="1417.8" y1="1104.2" x2="1787.0" y2="1104.2" stroke-width="3.6" />
<polyline points="1417.8,1116.7 1590.0,1116.7" stroke-width="3.6" fill="none" />
<polyline points="1595.0,1104.2 1595.0,1120.4 1585.8,1120.4 1585.8,1153.8" stroke-width="3.6" fill="none" />
<line x1="1417.8" y1="1153.8" x2="1585.8" y2="1153.8" stroke-width="3.6" />
<line x1="1585.8" y1="1153.8" x2="1787.0" y2="1153.8" stroke-width="6.0" />
<line x1="1582.6" y1="1024.5" x2="1582.6" y2="1104.2" stroke-width="3.6" />
<line x1="1644.6" y1="1024.5" x2="1644.6" y2="1104.2" stroke-width="3.6" />
<line x1="1572.6" y1="994.2" x2="1654.6" y2="994.2" stroke-width="2.2" />
<line x1="1582.6" y1="984.2" x2="1582.6" y2="1013.2" stroke-width="2.2" />
<line x1="1577.1" y1="999.7" x2="1588.1" y2="988.7" stroke-width="2.8" />
<line x1="1644.6" y1="984.2" x2="1644.6" y2="1013.2" stroke-width="2.2" />
<line x1="1639.1" y1="999.7" x2="1650.1" y2="988.7" stroke-width="2.8" />
<text transform="translate(1614.0,989.7) scale(0.86,1)" font-size="35" text-anchor="middle" font-family="Liberation Serif" font-weight="normal" stroke="#000" stroke-width="0.55" >25</text>
<line x1="1572.6" y1="1086.4" x2="1605.0" y2="1086.4" stroke-width="2.2" />
<line x1="1577.1" y1="1091.9" x2="1588.1" y2="1080.9" stroke-width="2.8" />
<line x1="1589.5" y1="1091.9" x2="1600.5" y2="1080.9" stroke-width="2.8" />
<line x1="1595.0" y1="1076.0" x2="1595.0" y2="1099.5" stroke-width="2.2" />
<polyline points="1614.5,1060.3 1596.0,1060.3 1588.4,1086.4" stroke-width="2.2" fill="none" />
<text transform="translate(1605.5,1055.5) scale(0.86,1)" font-size="35" text-anchor="middle" font-family="Liberation Serif" font-weight="normal" stroke="#000" stroke-width="0.55" >5</text>
<line x1="1642.0" y1="1094.2" x2="1642.0" y2="1129.4" stroke-width="2.2" />
<line x1="1624.0" y1="1104.2" x2="1652.0" y2="1104.2" stroke-width="2.2" />
<line x1="1636.5" y1="1109.7" x2="1647.5" y2="1098.7" stroke-width="2.8" />
<line x1="1624.0" y1="1119.4" x2="1652.0" y2="1119.4" stroke-width="2.2" />
<line x1="1636.5" y1="1124.9" x2="1647.5" y2="1113.9" stroke-width="2.8" />
<polyline points="1694.0,1078.6 1694.0,1097.0 1644.6,1111.0" stroke-width="2.2" fill="none" />
<text transform="translate(1691.0,1089.0) rotate(-90) scale(0.86,1)" font-size="35" text-anchor="middle" font-family="Liberation Serif" font-weight="normal" stroke="#000" stroke-width="0.55" >6</text>
<line x1="1575.0" y1="1137.0" x2="1605.0" y2="1137.0" stroke-width="2.2" />
<line x1="1580.3" y1="1142.5" x2="1591.3" y2="1131.5" stroke-width="2.8" />
<line x1="1586.5" y1="1142.5" x2="1597.5" y2="1131.5" stroke-width="2.8" />
<polyline points="1625.0,1187.8 1604.0,1187.8 1591.0,1137.0" stroke-width="2.2" fill="none" />
<text transform="translate(1614.5,1183.0) scale(0.86,1)" font-size="35" text-anchor="middle" font-family="Liberation Serif" font-weight="normal" stroke="#000" stroke-width="0.55" >4</text>
<line x1="1375.0" y1="1094.2" x2="1375.0" y2="1163.8" stroke-width="2.2" />
<line x1="1365.0" y1="1104.2" x2="1394.0" y2="1104.2" stroke-width="2.2" />
<line x1="1369.5" y1="1109.7" x2="1380.5" y2="1098.7" stroke-width="2.8" />
<line x1="1365.0" y1="1116.7" x2="1394.0" y2="1116.7" stroke-width="2.2" />
<line x1="1369.5" y1="1122.2" x2="1380.5" y2="1111.2" stroke-width="2.8" />
<line x1="1365.0" y1="1153.8" x2="1394.0" y2="1153.8" stroke-width="2.2" />
<line x1="1369.5" y1="1159.3" x2="1380.5" y2="1148.3" stroke-width="2.8" />
<polyline points="1348.8,1085.0 1348.8,1103.4 1372.8,1110.0" stroke-width="2.2" fill="none" />
<text transform="translate(1345.0,1095.0) rotate(-90) scale(0.86,1)" font-size="35" text-anchor="middle" font-family="Liberation Serif" font-weight="normal" stroke="#000" stroke-width="0.55" >5</text>
<text transform="translate(1372.0,1135.5) rotate(-90) scale(0.86,1)" font-size="35" text-anchor="middle" font-family="Liberation Serif" font-weight="normal" stroke="#000" stroke-width="0.55" >15</text>
<line x1="1829.6" y1="1094.2" x2="1829.6" y2="1163.8" stroke-width="2.2" />
<line x1="1810.6" y1="1104.2" x2="1839.6" y2="1104.2" stroke-width="2.2" />
<line x1="1824.1" y1="1109.7" x2="1835.1" y2="1098.7" stroke-width="2.8" />
<line x1="1810.6" y1="1153.8" x2="1839.6" y2="1153.8" stroke-width="2.2" />
<line x1="1824.1" y1="1159.3" x2="1835.1" y2="1148.3" stroke-width="2.8" />
<text transform="translate(1825.0,1129.0) rotate(-90) scale(0.86,1)" font-size="35" text-anchor="middle" font-family="Liberation Serif" font-weight="normal" stroke="#000" stroke-width="0.55" >20</text>
<circle cx="1717.7" cy="1150.0" r="4.5" fill="#000" stroke="none"/>
<polyline points="1717.7,1150.0 1806.2,1280.3 1832.0,1280.3" stroke-width="2.2" fill="none" />
<text transform="translate(0,1293.7) scale(1,0.92)" font-size="34.5" font-family="Liberation Serif" font-weight="normal" stroke="#000" stroke-width="0.45" ><tspan x="1850.0 1884.5" y="0">真皮</tspan></text>
<rect x="2141.0" y="867.7" width="674.0" height="536.9" stroke-width="2.4" fill="none" stroke-dasharray="11 9"/>
<line x1="2141.0" y1="937.5" x2="2710.7" y2="937.5" stroke-width="3.6" />
<line x1="2141.0" y1="999.6" x2="2710.7" y2="999.6" stroke-width="3.6" />
<path d="M2710.7,877.6 H2758.8" stroke-width="4.6" fill="none" />
<path d="M2710.7,877.6 V1026 A290,294 0 0 1 2420.7,1320 H2141" stroke-width="3.6" fill="none" />
<path d="M2758.8,877.6 V1013 A354,355 0 0 1 2404.8,1368 H2141" stroke-width="6.0" fill="none" />
<line x1="2291.8" y1="999.6" x2="2291.8" y2="1320.0" stroke-width="3.6" />
<line x1="2340.6" y1="999.6" x2="2340.6" y2="1320.0" stroke-width="3.6" />
<line x1="2389.9" y1="999.6" x2="2389.9" y2="1320.0" stroke-width="3.6" />
<line x1="2390.0" y1="1000.0" x2="2809.0" y2="1261.6" stroke-width="2.4" />
<line x1="2390.0" y1="1000.0" x2="2773.6" y2="1308.4" stroke-width="2.4" />
<text transform="translate(2790.0,1240.0) rotate(32) scale(0.86,1)" font-size="35" text-anchor="middle" font-family="Liberation Serif" font-weight="normal" stroke="#000" stroke-width="0.55" >R149</text>
<text transform="translate(2757.0,1284.0) rotate(38.8) scale(0.86,1)" font-size="35" text-anchor="middle" font-family="Liberation Serif" font-weight="normal" stroke="#000" stroke-width="0.55" >R150</text>
<line x1="2815.0" y1="867.7" x2="2815.0" y2="1370.0" stroke-width="2.2" />
<line x1="2796.0" y1="877.6" x2="2825.0" y2="877.6" stroke-width="2.2" />
<line x1="2809.5" y1="883.1" x2="2820.5" y2="872.1" stroke-width="2.8" />
<line x1="2796.0" y1="999.6" x2="2825.0" y2="999.6" stroke-width="2.2" />
<line x1="2809.5" y1="1005.1" x2="2820.5" y2="994.1" stroke-width="2.8" />
<line x1="2796.0" y1="1368.0" x2="2825.0" y2="1368.0" stroke-width="2.2" />
<line x1="2809.5" y1="1373.5" x2="2820.5" y2="1362.5" stroke-width="2.8" />
<text transform="translate(2810.0,937.5) rotate(-90) scale(0.86,1)" font-size="35" text-anchor="middle" font-family="Liberation Serif" font-weight="normal" stroke="#000" stroke-width="0.55" >50</text>
<text transform="translate(2810.0,1185.0) rotate(-90) scale(0.86,1)" font-size="35" text-anchor="middle" font-family="Liberation Serif" font-weight="normal" stroke="#000" stroke-width="0.55" >150</text>
<line x1="2379.9" y1="1404.6" x2="2770.0" y2="1404.6" stroke-width="2.2" />
<line x1="2389.9" y1="1387.6" x2="2389.9" y2="1414.6" stroke-width="2.2" />
<line x1="2384.4" y1="1410.1" x2="2395.4" y2="1399.1" stroke-width="2.8" />
<line x1="2760.0" y1="1387.6" x2="2760.0" y2="1414.6" stroke-width="2.2" />
<line x1="2754.5" y1="1410.1" x2="2765.5" y2="1399.1" stroke-width="2.8" />
<text transform="translate(2574.0,1400.9) scale(0.86,1)" font-size="35" text-anchor="middle" font-family="Liberation Serif" font-weight="normal" stroke="#000" stroke-width="0.55" >150</text>
<circle cx="2263.4" cy="1368.0" r="5" fill="#000" stroke="none"/>
<polyline points="2263.4,1368.0 2351.7,1495.0 2377.5,1495.0" stroke-width="2.2" fill="none" />
<text transform="translate(0,1506.7) scale(1,0.92)" font-size="34.5" font-family="Liberation Serif" font-weight="normal" stroke="#000" stroke-width="0.45" ><tspan x="2380.0 2414.5" y="0">真皮</tspan></text>
<path d="M505,1400.8 H1619 V1433 A92,92 0 0 1 1527,1525 H597 A92,92 0 0 1 505,1433 Z" stroke-width="3.8" fill="none" />
<path d="M870.7,1525 V1445 A12.5,12.5 0 0 1 883.2,1432.3 H1239.9 A12.5,12.5 0 0 1 1252.4,1444.8 V1525" stroke-width="5.0" fill="none" />
<line x1="495.0" y1="1356.0" x2="1629.0" y2="1356.0" stroke-width="2.2" />
<line x1="505.0" y1="1347.0" x2="505.0" y2="1375.0" stroke-width="2.2" />
<line x1="499.5" y1="1361.5" x2="510.5" y2="1350.5" stroke-width="2.8" />
<line x1="1619.0" y1="1347.0" x2="1619.0" y2="1375.0" stroke-width="2.2" />
<line x1="1613.5" y1="1361.5" x2="1624.5" y2="1350.5" stroke-width="2.8" />
<text transform="translate(1061.0,1352.0) scale(0.86,1)" font-size="35" text-anchor="middle" font-family="Liberation Serif" font-weight="normal" stroke="#000" stroke-width="0.55" >1804</text>
<line x1="439.9" y1="1390.8" x2="439.9" y2="1535.0" stroke-width="2.2" />
<line x1="430.9" y1="1400.8" x2="458.9" y2="1400.8" stroke-width="2.2" />
<line x1="434.4" y1="1406.3" x2="445.4" y2="1395.3" stroke-width="2.8" />
<line x1="430.9" y1="1432.3" x2="458.9" y2="1432.3" stroke-width="2.2" />
<line x1="434.4" y1="1437.8" x2="445.4" y2="1426.8" stroke-width="2.8" />
<line x1="430.9" y1="1525.0" x2="458.9" y2="1525.0" stroke-width="2.2" />
<line x1="434.4" y1="1530.5" x2="445.4" y2="1519.5" stroke-width="2.8" />
<polyline points="414.0,1376.0 414.0,1408.4 439.0,1416.0" stroke-width="2.2" fill="none" />
<text transform="translate(410.0,1392.0) rotate(-90) scale(0.86,1)" font-size="35" text-anchor="middle" font-family="Liberation Serif" font-weight="normal" stroke="#000" stroke-width="0.55" >50</text>
<text transform="translate(436.0,1478.0) rotate(-90) scale(0.86,1)" font-size="35" text-anchor="middle" font-family="Liberation Serif" font-weight="normal" stroke="#000" stroke-width="0.55" >152</text>
<line x1="816.7" y1="1390.8" x2="816.7" y2="1442.3" stroke-width="2.2" />
<line x1="811.2" y1="1406.3" x2="822.2" y2="1395.3" stroke-width="2.8" />
<line x1="811.2" y1="1437.8" x2="822.2" y2="1426.8" stroke-width="2.8" />
<line x1="808.0" y1="1432.3" x2="836.5" y2="1432.3" stroke-width="2.2" />
<polyline points="776.0,1461.8 776.0,1428.0 815.8,1416.0" stroke-width="2.2" fill="none" />
<text transform="translate(773.0,1445.0) rotate(-90) scale(0.86,1)" font-size="35" text-anchor="middle" font-family="Liberation Serif" font-weight="normal" stroke="#000" stroke-width="0.55" >50</text>
<line x1="495.0" y1="1570.0" x2="1629.0" y2="1570.0" stroke-width="2.2" />
<line x1="505.0" y1="1551.0" x2="505.0" y2="1580.0" stroke-width="2.2" />
<line x1="499.5" y1="1575.5" x2="510.5" y2="1564.5" stroke-width="2.8" />
<line x1="598.7" y1="1551.0" x2="598.7" y2="1580.0" stroke-width="2.2" />
<line x1="593.2" y1="1575.5" x2="604.2" y2="1564.5" stroke-width="2.8" />
<line x1="870.7" y1="1551.0" x2="870.7" y2="1580.0" stroke-width="2.2" />
<line x1="865.2" y1="1575.5" x2="876.2" y2="1564.5" stroke-width="2.8" />
<line x1="1252.4" y1="1551.0" x2="1252.4" y2="1580.0" stroke-width="2.2" />
<line x1="1246.9" y1="1575.5" x2="1257.9" y2="1564.5" stroke-width="2.8" />
<line x1="1524.4" y1="1551.0" x2="1524.4" y2="1580.0" stroke-width="2.2" />
<line x1="1518.9" y1="1575.5" x2="1529.9" y2="1564.5" stroke-width="2.8" />
<line x1="1619.0" y1="1551.0" x2="1619.0" y2="1580.0" stroke-width="2.2" />
<line x1="1613.5" y1="1575.5" x2="1624.5" y2="1564.5" stroke-width="2.8" />
<text transform="translate(551.5,1565.4) scale(0.86,1)" font-size="35" text-anchor="middle" font-family="Liberation Serif" font-weight="normal" stroke="#000" stroke-width="0.55" >152</text>
<text transform="translate(734.4,1565.4) scale(0.86,1)" font-size="35" text-anchor="middle" font-family="Liberation Serif" font-weight="normal" stroke="#000" stroke-width="0.55" >440</text>
<text transform="translate(1061.0,1565.4) scale(0.86,1)" font-size="35" text-anchor="middle" font-family="Liberation Serif" font-weight="normal" stroke="#000" stroke-width="0.55" >616</text>
<text transform="translate(1388.7,1565.4) scale(0.86,1)" font-size="35" text-anchor="middle" font-family="Liberation Serif" font-weight="normal" stroke="#000" stroke-width="0.55" >440</text>
<text transform="translate(1570.0,1565.4) scale(0.86,1)" font-size="35" text-anchor="middle" font-family="Liberation Serif" font-weight="normal" stroke="#000" stroke-width="0.55" >152</text>
<polyline points="905.7,1621.0 884.4,1621.0 869.0,1570.0" stroke-width="2.2" fill="none" />
<text transform="translate(895.0,1616.0) scale(0.86,1)" font-size="35" text-anchor="middle" font-family="Liberation Serif" font-weight="normal" stroke="#000" stroke-width="0.55" >2</text>
<polyline points="1285.0,1621.0 1266.8,1621.0 1250.0,1570.0" stroke-width="2.2" fill="none" />
<text transform="translate(1276.0,1616.0) scale(0.86,1)" font-size="35" text-anchor="middle" font-family="Liberation Serif" font-weight="normal" stroke="#000" stroke-width="0.55" >2</text>
<line x1="1248.5" y1="1437.0" x2="1199.7" y2="1477.0" stroke-width="2.2" />
<text transform="translate(1212.0,1466.0) rotate(-39.3) scale(0.86,1)" font-size="35" text-anchor="middle" font-family="Liberation Serif" font-weight="normal" stroke="#000" stroke-width="0.55" >R20</text>
<text transform="translate(0,1639.2)" font-size="42.5" font-family="Liberation Serif" font-weight="normal" stroke="#000" stroke-width="0.45" ><tspan x="1003.0 1045.5 1088.0" y="0">横剖图</tspan></text>
<rect x="506.0" y="1815.7" width="1111.4" height="59.3" stroke-width="3.8" fill="none" />
<line x1="506.0" y1="1827.0" x2="1617.4" y2="1827.0" stroke-width="3.8" />
<line x1="506.0" y1="1863.5" x2="1617.4" y2="1863.5" stroke-width="3.8" />
<line x1="518.6" y1="1827.0" x2="518.6" y2="1863.5" stroke-width="3.8" />
<line x1="598.5" y1="1827.0" x2="598.5" y2="1863.5" stroke-width="3.8" />
<line x1="611.3" y1="1827.0" x2="611.3" y2="1863.5" stroke-width="3.8" />
<line x1="624.4" y1="1827.0" x2="624.4" y2="1863.5" stroke-width="3.8" />
<line x1="860.7" y1="1827.0" x2="860.7" y2="1863.5" stroke-width="3.8" />
<line x1="876.8" y1="1827.0" x2="876.8" y2="1863.5" stroke-width="3.8" />
<line x1="1246.3" y1="1827.0" x2="1246.3" y2="1863.5" stroke-width="3.8" />
<line x1="1262.8" y1="1827.0" x2="1262.8" y2="1863.5" stroke-width="3.8" />
<line x1="1499.4" y1="1827.0" x2="1499.4" y2="1863.5" stroke-width="3.8" />
<line x1="1512.2" y1="1827.0" x2="1512.2" y2="1863.5" stroke-width="3.8" />
<line x1="1524.4" y1="1827.0" x2="1524.4" y2="1863.5" stroke-width="3.8" />
<line x1="1604.3" y1="1827.0" x2="1604.3" y2="1863.5" stroke-width="3.8" />
<rect x="1015" y="1830" width="94" height="32.3" rx="16" ry="16" fill="none" stroke-width="4.2"/>
<line x1="1031.4" y1="1844.6" x2="953.7" y2="1861.4" stroke-width="2.2" />
<text transform="translate(970.0,1856.0) rotate(-12.2) scale(0.86,1)" font-size="35" text-anchor="middle" font-family="Liberation Serif" font-weight="normal" stroke="#000" stroke-width="0.55" >R25</text>
<line x1="496.0" y1="1760.8" x2="1627.4" y2="1760.8" stroke-width="2.2" />
<line x1="506.0" y1="1750.8" x2="506.0" y2="1780.8" stroke-width="2.2" />
<line x1="500.5" y1="1766.3" x2="511.5" y2="1755.3" stroke-width="2.8" />
<line x1="518.6" y1="1750.8" x2="518.6" y2="1780.8" stroke-width="2.2" />
<line x1="513.1" y1="1766.3" x2="524.1" y2="1755.3" stroke-width="2.8" />
<line x1="598.5" y1="1750.8" x2="598.5" y2="1780.8" stroke-width="2.2" />
<line x1="593.0" y1="1766.3" x2="604.0" y2="1755.3" stroke-width="2.8" />
<line x1="611.3" y1="1750.8" x2="611.3" y2="1780.8" stroke-width="2.2" />
<line x1="605.8" y1="1766.3" x2="616.8" y2="1755.3" stroke-width="2.8" />
<line x1="624.4" y1="1750.8" x2="624.4" y2="1780.8" stroke-width="2.2" />
<line x1="618.9" y1="1766.3" x2="629.9" y2="1755.3" stroke-width="2.8" />
<line x1="860.7" y1="1750.8" x2="860.7" y2="1780.8" stroke-width="2.2" />
<line x1="855.2" y1="1766.3" x2="866.2" y2="1755.3" stroke-width="2.8" />
<line x1="876.8" y1="1750.8" x2="876.8" y2="1780.8" stroke-width="2.2" />
<line x1="871.3" y1="1766.3" x2="882.3" y2="1755.3" stroke-width="2.8" />
<line x1="1015.2" y1="1750.8" x2="1015.2" y2="1780.8" stroke-width="2.2" />
<line x1="1009.7" y1="1766.3" x2="1020.7" y2="1755.3" stroke-width="2.8" />
<line x1="1107.3" y1="1750.8" x2="1107.3" y2="1780.8" stroke-width="2.2" />
<line x1="1101.8" y1="1766.3" x2="1112.8" y2="1755.3" stroke-width="2.8" />
<line x1="1246.3" y1="1750.8" x2="1246.3" y2="1780.8" stroke-width="2.2" />
<line x1="1240.8" y1="1766.3" x2="1251.8" y2="1755.3" stroke-width="2.8" />
<line x1="1262.8" y1="1750.8" x2="1262.8" y2="1780.8" stroke-width="2.2" />
<line x1="1257.3" y1="1766.3" x2="1268.3" y2="1755.3" stroke-width="2.8" />
<line x1="1499.4" y1="1750.8" x2="1499.4" y2="1780.8" stroke-width="2.2" />
<line x1="1493.9" y1="1766.3" x2="1504.9" y2="1755.3" stroke-width="2.8" />
<line x1="1512.2" y1="1750.8" x2="1512.2" y2="1780.8" stroke-width="2.2" />
<line x1="1506.7" y1="1766.3" x2="1517.7" y2="1755.3" stroke-width="2.8" />
<line x1="1524.4" y1="1750.8" x2="1524.4" y2="1780.8" stroke-width="2.2" />
<line x1="1518.9" y1="1766.3" x2="1529.9" y2="1755.3" stroke-width="2.8" />
<line x1="1604.3" y1="1750.8" x2="1604.3" y2="1780.8" stroke-width="2.2" />
<line x1="1598.8" y1="1766.3" x2="1609.8" y2="1755.3" stroke-width="2.8" />
<line x1="1617.4" y1="1750.8" x2="1617.4" y2="1780.8" stroke-width="2.2" />
<line x1="1611.9" y1="1766.3" x2="1622.9" y2="1755.3" stroke-width="2.8" />
<text transform="translate(558.8,1756.8) scale(0.86,1)" font-size="35" text-anchor="middle" font-family="Liberation Serif" font-weight="normal" stroke="#000" stroke-width="0.55" >130</text>
<text transform="translate(741.8,1756.8) scale(0.86,1)" font-size="35" text-anchor="middle" font-family="Liberation Serif" font-weight="normal" stroke="#000" stroke-width="0.55" >385</text>
<text transform="translate(946.0,1756.8) scale(0.86,1)" font-size="35" text-anchor="middle" font-family="Liberation Serif" font-weight="normal" stroke="#000" stroke-width="0.55" >225</text>
<text transform="translate(1061.0,1756.8) scale(0.86,1)" font-size="35" text-anchor="middle" font-family="Liberation Serif" font-weight="normal" stroke="#000" stroke-width="0.55" >150</text>
<text transform="translate(1176.8,1756.8) scale(0.86,1)" font-size="35" text-anchor="middle" font-family="Liberation Serif" font-weight="normal" stroke="#000" stroke-width="0.55" >225</text>
<text transform="translate(1381.0,1756.8) scale(0.86,1)" font-size="35" text-anchor="middle" font-family="Liberation Serif" font-weight="normal" stroke="#000" stroke-width="0.55" >385</text>
<text transform="translate(1564.0,1756.8) scale(0.86,1)" font-size="35" text-anchor="middle" font-family="Liberation Serif" font-weight="normal" stroke="#000" stroke-width="0.55" >130</text>
<polyline points="551.0,1735.0 519.0,1735.0 511.6,1760.0" stroke-width="2.2" fill="none" />
<text transform="translate(536.7,1730.0) scale(0.86,1)" font-size="35" text-anchor="middle" font-family="Liberation Serif" font-weight="normal" stroke="#000" stroke-width="0.55" >20</text>
<polyline points="571.0,1719.0 603.0,1719.0 606.0,1760.0" stroke-width="2.2" fill="none" />
<text transform="translate(587.7,1714.0) scale(0.86,1)" font-size="35" text-anchor="middle" font-family="Liberation Serif" font-weight="normal" stroke="#000" stroke-width="0.55" >20</text>
<polyline points="658.0,1735.0 624.4,1735.0 618.0,1760.0" stroke-width="2.2" fill="none" />
<text transform="translate(641.0,1730.0) scale(0.86,1)" font-size="35" text-anchor="middle" font-family="Liberation Serif" font-weight="normal" stroke="#000" stroke-width="0.55" >20</text>
<polyline points="909.5,1735.0 874.0,1735.0 868.0,1760.0" stroke-width="2.2" fill="none" />
<text transform="translate(892.5,1730.0) scale(0.86,1)" font-size="35" text-anchor="middle" font-family="Liberation Serif" font-weight="normal" stroke="#000" stroke-width="0.55" >25</text>
<polyline points="1294.0,1735.0 1262.0,1735.0 1254.6,1760.0" stroke-width="2.2" fill="none" />
<text transform="translate(1278.0,1730.0) scale(0.86,1)" font-size="35" text-anchor="middle" font-family="Liberation Serif" font-weight="normal" stroke="#000" stroke-width="0.55" >25</text>
<polyline points="1460.0,1719.0 1492.0,1719.0 1506.0,1760.0" stroke-width="2.2" fill="none" />
<text transform="translate(1477.0,1714.0) scale(0.86,1)" font-size="35" text-anchor="middle" font-family="Liberation Serif" font-weight="normal" stroke="#000" stroke-width="0.55" >20</text>
<polyline points="1558.0,1735.0 1524.4,1735.0 1518.0,1760.0" stroke-width="2.2" fill="none" />
<text transform="translate(1542.0,1730.0) scale(0.86,1)" font-size="35" text-anchor="middle" font-family="Liberation Serif" font-weight="normal" stroke="#000" stroke-width="0.55" >20</text>
<polyline points="1651.0,1735.0 1617.0,1735.0 1611.0,1760.0" stroke-width="2.2" fill="none" />
<text transform="translate(1634.0,1730.0) scale(0.86,1)" font-size="35" text-anchor="middle" font-family="Liberation Serif" font-weight="normal" stroke="#000" stroke-width="0.55" >20</text>
<line x1="429.3" y1="1805.7" x2="429.3" y2="1885.0" stroke-width="2.2" />
<line x1="420.3" y1="1815.7" x2="448.3" y2="1815.7" stroke-width="2.2" />
<line x1="423.8" y1="1821.2" x2="434.8" y2="1810.2" stroke-width="2.8" />
<line x1="420.3" y1="1827.0" x2="448.3" y2="1827.0" stroke-width="2.2" />
<line x1="423.8" y1="1832.5" x2="434.8" y2="1821.5" stroke-width="2.8" />
<line x1="420.3" y1="1863.5" x2="448.3" y2="1863.5" stroke-width="2.2" />
<line x1="423.8" y1="1869.0" x2="434.8" y2="1858.0" stroke-width="2.8" />
<line x1="420.3" y1="1875.0" x2="448.3" y2="1875.0" stroke-width="2.2" />
<line x1="423.8" y1="1880.5" x2="434.8" y2="1869.5" stroke-width="2.8" />
<polyline points="402.4,1783.7 402.4,1813.5 427.7,1820.0" stroke-width="2.2" fill="none" />
<text transform="translate(398.0,1798.0) rotate(-90) scale(0.86,1)" font-size="35" text-anchor="middle" font-family="Liberation Serif" font-weight="normal" stroke="#000" stroke-width="0.55" >18</text>
<text transform="translate(422.0,1845.0) rotate(-90) scale(0.86,1)" font-size="35" text-anchor="middle" font-family="Liberation Serif" font-weight="normal" stroke="#000" stroke-width="0.55" >60</text>
<polyline points="387.0,1917.8 387.0,1887.0 427.7,1870.5" stroke-width="2.2" fill="none" />
<text transform="translate(383.0,1903.0) rotate(-90) scale(0.86,1)" font-size="35" text-anchor="middle" font-family="Liberation Serif" font-weight="normal" stroke="#000" stroke-width="0.55" >18</text>
<text transform="translate(0,2014.4)" font-size="42.5" font-family="Liberation Serif" font-weight="normal" stroke="#000" stroke-width="0.45" ><tspan x="962.7 1005.2 1047.7 1090.2 1132.7" y="0">内部结构图</tspan></text>
<rect x="1783.8" y="1805.9" width="185.8" height="96.6" stroke-width="2.6" fill="none" stroke-dasharray="10 9"/>
<rect x="1799.0" y="1815.0" width="126.0" height="11.6" stroke-width="3.6" fill="none" />
<rect x="1799.0" y="1864.0" width="126.0" height="11.5" stroke-width="3.6" fill="none" />
<line x1="1799.0" y1="1826.6" x2="1799.0" y2="1864.0" stroke-width="1.4" />
<line x1="1925.0" y1="1815.0" x2="1925.0" y2="1875.5" stroke-width="4.0" />
<line x1="1815.0" y1="1826.6" x2="1815.0" y2="1864.0" stroke-width="3.6" />
<line x1="1830.7" y1="1826.6" x2="1830.7" y2="1864.0" stroke-width="3.6" />
<line x1="1914.5" y1="1826.6" x2="1914.5" y2="1864.0" stroke-width="3.6" />
<line x1="1830.7" y1="1815.0" x2="1830.7" y2="1826.6" stroke-width="3.6" />
<line x1="1918.4" y1="1826.6" x2="1918.4" y2="1864.0" stroke-width="1.6" />
<line x1="1815.0" y1="1831.5" x2="1830.7" y2="1831.5" stroke-width="3.0" />
<line x1="1815.0" y1="1861.0" x2="1830.7" y2="1861.0" stroke-width="3.0" />
<line x1="1789.0" y1="1788.7" x2="1935.0" y2="1788.7" stroke-width="2.2" />
<line x1="1799.0" y1="1779.7" x2="1799.0" y2="1799.7" stroke-width="2.2" />
<line x1="1793.5" y1="1794.2" x2="1804.5" y2="1783.2" stroke-width="2.8" />
<line x1="1925.0" y1="1779.7" x2="1925.0" y2="1799.7" stroke-width="2.2" />
<line x1="1919.5" y1="1794.2" x2="1930.5" y2="1783.2" stroke-width="2.8" />
<text transform="translate(1861.8,1785.0) scale(0.86,1)" font-size="35" text-anchor="middle" font-family="Liberation Serif" font-weight="normal" stroke="#000" stroke-width="0.55" >202</text>
<line x1="1789.0" y1="1906.4" x2="1935.0" y2="1906.4" stroke-width="2.2" />
<line x1="1799.0" y1="1888.4" x2="1799.0" y2="1916.4" stroke-width="2.2" />
<line x1="1793.5" y1="1911.9" x2="1804.5" y2="1900.9" stroke-width="2.8" />
<line x1="1814.5" y1="1888.4" x2="1814.5" y2="1916.4" stroke-width="2.2" />
<line x1="1809.0" y1="1911.9" x2="1820.0" y2="1900.9" stroke-width="2.8" />
<line x1="1925.0" y1="1888.4" x2="1925.0" y2="1916.4" stroke-width="2.2" />
<line x1="1919.5" y1="1911.9" x2="1930.5" y2="1900.9" stroke-width="2.8" />
<text transform="translate(1869.0,1903.5) scale(0.86,1)" font-size="35" text-anchor="middle" font-family="Liberation Serif" font-weight="normal" stroke="#000" stroke-width="0.55" >177</text>
<polyline points="1855.3,1958.3 1820.8,1958.3 1808.0,1906.4" stroke-width="2.2" fill="none" />
<text transform="translate(1838.0,1953.5) scale(0.86,1)" font-size="35" text-anchor="middle" font-family="Liberation Serif" font-weight="normal" stroke="#000" stroke-width="0.55" >25</text>
<line x1="1781.4" y1="1819.5" x2="1781.4" y2="1871.0" stroke-width="2.2" />
<line x1="1772.4" y1="1829.5" x2="1797.4" y2="1829.5" stroke-width="2.2" />
<line x1="1775.9" y1="1835.0" x2="1786.9" y2="1824.0" stroke-width="2.8" />
<line x1="1772.4" y1="1861.0" x2="1797.4" y2="1861.0" stroke-width="2.2" />
<line x1="1775.9" y1="1866.5" x2="1786.9" y2="1855.5" stroke-width="2.8" />
<text transform="translate(1776.0,1845.0) rotate(-90) scale(0.86,1)" font-size="35" text-anchor="middle" font-family="Liberation Serif" font-weight="normal" stroke="#000" stroke-width="0.55" >50</text>
<line x1="1969.6" y1="1863.0" x2="2180.0" y2="1863.0" stroke-width="2.6" stroke-dasharray="10 9"/>
<text transform="translate(0,2029.1)" font-size="43" font-family="Liberation Serif" font-weight="normal" stroke="#000" stroke-width="0.45" ><tspan x="1758.7" y="0" font-size="55.9" textLength="20.9" lengthAdjust="spacingAndGlyphs">B</tspan><tspan x="1781.6" y="0" font-size="55.9">-</tspan><tspan x="1801.7" y="0" font-size="55.9" textLength="20.9" lengthAdjust="spacingAndGlyphs">B</tspan><tspan x="1823.2 1866.2 1909.2" y="0">侧剖图</tspan></text>
<rect x="2179.8" y="1774.7" width="742.2" height="377.9" stroke-width="2.4" fill="none" stroke-dasharray="11 9"/>
<line x1="2154.0" y1="1862.6" x2="2179.8" y2="1862.6" stroke-width="2.4" stroke-dasharray="11 9"/>
<rect x="2209.8" y="1810.5" width="123.7" height="44.0" stroke-width="3.8" fill="none" />
<rect x="2338.2" y="1810.5" width="370.8" height="44.0" stroke-width="3.8" fill="none" />
<rect x="2209.8" y="2002.5" width="499.2" height="44.3" stroke-width="3.8" fill="none" />
<line x1="2209.8" y1="1854.5" x2="2209.8" y2="2002.5" stroke-width="1.4" />
<line x1="2271.9" y1="1854.5" x2="2271.9" y2="2002.5" stroke-width="3.8" />
<line x1="2333.5" y1="1854.5" x2="2333.5" y2="2002.5" stroke-width="3.8" />
<line x1="2271.9" y1="1867.2" x2="2333.5" y2="1867.2" stroke-width="3.2" />
<line x1="2271.9" y1="1991.0" x2="2333.5" y2="1991.0" stroke-width="3.2" />
<line x1="2704.3" y1="1854.5" x2="2704.3" y2="2002.5" stroke-width="3.0" />
<rect x="2654" y="1854.5" width="13.5" height="148" fill="#000" stroke="none"/>
<line x1="2655.5" y1="1873" x2="2666" y2="1862" style="stroke:#fff" stroke-width="1.8"/><line x1="2655.5" y1="1890" x2="2666" y2="1879" style="stroke:#fff" stroke-width="1.8"/><line x1="2655.5" y1="1907" x2="2666" y2="1896" style="stroke:#fff" stroke-width="1.8"/><line x1="2655.5" y1="1924" x2="2666" y2="1913" style="stroke:#fff" stroke-width="1.8"/><line x1="2655.5" y1="1941" x2="2666" y2="1930" style="stroke:#fff" stroke-width="1.8"/><line x1="2655.5" y1="1958" x2="2666" y2="1947" style="stroke:#fff" stroke-width="1.8"/><line x1="2655.5" y1="1975" x2="2666" y2="1964" style="stroke:#fff" stroke-width="1.8"/><line x1="2655.5" y1="1992" x2="2666" y2="1981" style="stroke:#fff" stroke-width="1.8"/>
<line x1="2199.8" y1="1765.8" x2="2719.0" y2="1765.8" stroke-width="2.2" />
<line x1="2209.8" y1="1755.8" x2="2209.8" y2="1784.8" stroke-width="2.2" />
<line x1="2204.3" y1="1771.3" x2="2215.3" y2="1760.3" stroke-width="2.8" />
<line x1="2333.5" y1="1755.8" x2="2333.5" y2="1784.8" stroke-width="2.2" />
<line x1="2328.0" y1="1771.3" x2="2339.0" y2="1760.3" stroke-width="2.8" />
<line x1="2338.2" y1="1755.8" x2="2338.2" y2="1784.8" stroke-width="2.2" />
<line x1="2332.7" y1="1771.3" x2="2343.7" y2="1760.3" stroke-width="2.8" />
<line x1="2709.0" y1="1755.8" x2="2709.0" y2="1784.8" stroke-width="2.2" />
<line x1="2703.5" y1="1771.3" x2="2714.5" y2="1760.3" stroke-width="2.8" />
<text transform="translate(2271.8,1762.0) scale(0.86,1)" font-size="35" text-anchor="middle" font-family="Liberation Serif" font-weight="normal" stroke="#000" stroke-width="0.55" >50</text>
<text transform="translate(2523.0,1762.0) scale(0.86,1)" font-size="35" text-anchor="middle" font-family="Liberation Serif" font-weight="normal" stroke="#000" stroke-width="0.55" >150</text>
<line x1="2199.8" y1="2096.5" x2="2719.0" y2="2096.5" stroke-width="2.2" />
<line x1="2209.8" y1="2078.5" x2="2209.8" y2="2106.5" stroke-width="2.2" />
<line x1="2204.3" y1="2102.0" x2="2215.3" y2="2091.0" stroke-width="2.8" />
<line x1="2271.9" y1="2078.5" x2="2271.9" y2="2106.5" stroke-width="2.2" />
<line x1="2266.4" y1="2102.0" x2="2277.4" y2="2091.0" stroke-width="2.8" />
<line x1="2709.0" y1="2078.5" x2="2709.0" y2="2106.5" stroke-width="2.2" />
<line x1="2703.5" y1="2102.0" x2="2714.5" y2="2091.0" stroke-width="2.8" />
<text transform="translate(2240.7,2092.7) scale(0.86,1)" font-size="35" text-anchor="middle" font-family="Liberation Serif" font-weight="normal" stroke="#000" stroke-width="0.55" >25</text>
<text transform="translate(2489.7,2092.7) scale(0.86,1)" font-size="35" text-anchor="middle" font-family="Liberation Serif" font-weight="normal" stroke="#000" stroke-width="0.55" >177</text>
<line x1="2132.7" y1="1800.5" x2="2132.7" y2="2056.8" stroke-width="2.2" />
<line x1="2122.7" y1="1810.5" x2="2149.7" y2="1810.5" stroke-width="2.2" />
<line x1="2127.2" y1="1816.0" x2="2138.2" y2="1805.0" stroke-width="2.8" />
<line x1="2122.7" y1="1854.5" x2="2149.7" y2="1854.5" stroke-width="2.2" />
<line x1="2127.2" y1="1860.0" x2="2138.2" y2="1849.0" stroke-width="2.8" />
<line x1="2122.7" y1="1866.7" x2="2149.7" y2="1866.7" stroke-width="2.2" />
<line x1="2127.2" y1="1872.2" x2="2138.2" y2="1861.2" stroke-width="2.8" />
<line x1="2122.7" y1="1991.0" x2="2149.7" y2="1991.0" stroke-width="2.2" />
<line x1="2127.2" y1="1996.5" x2="2138.2" y2="1985.5" stroke-width="2.8" />
<line x1="2122.7" y1="2002.5" x2="2149.7" y2="2002.5" stroke-width="2.2" />
<line x1="2127.2" y1="2008.0" x2="2138.2" y2="1997.0" stroke-width="2.8" />
<line x1="2122.7" y1="2046.8" x2="2149.7" y2="2046.8" stroke-width="2.2" />
<line x1="2127.2" y1="2052.3" x2="2138.2" y2="2041.3" stroke-width="2.8" />
<text transform="translate(2127.0,1834.0) rotate(-90) scale(0.86,1)" font-size="35" text-anchor="middle" font-family="Liberation Serif" font-weight="normal" stroke="#000" stroke-width="0.55" >18</text>
<polyline points="2103.0,1834.7 2103.0,1851.7 2131.7,1860.0" stroke-width="2.2" fill="none" />
<text transform="translate(2100.0,1844.5) rotate(-90) scale(0.86,1)" font-size="35" text-anchor="middle" font-family="Liberation Serif" font-weight="normal" stroke="#000" stroke-width="0.55" >5</text>
<text transform="translate(2130.0,1928.5) rotate(-90) scale(0.86,1)" font-size="35" text-anchor="middle" font-family="Liberation Serif" font-weight="normal" stroke="#000" stroke-width="0.55" >50</text>
<polyline points="2107.7,1971.0 2107.7,1988.5 2131.7,1995.0" stroke-width="2.2" fill="none" />
<text transform="translate(2103.0,1980.0) rotate(-90) scale(0.86,1)" font-size="35" text-anchor="middle" font-family="Liberation Serif" font-weight="normal" stroke="#000" stroke-width="0.55" >5</text>
<text transform="translate(2128.0,2024.5) rotate(-90) scale(0.86,1)" font-size="35" text-anchor="middle" font-family="Liberation Serif" font-weight="normal" stroke="#000" stroke-width="0.55" >18</text>
<line x1="2645.0" y1="1896.4" x2="2675.5" y2="1896.4" stroke-width="2.2" />
<line x1="2648.5" y1="1901.9" x2="2659.5" y2="1890.9" stroke-width="2.8" />
<line x1="2662.0" y1="1901.9" x2="2673.0" y2="1890.9" stroke-width="2.8" />
<line x1="2664.0" y1="1930.7" x2="2714.0" y2="1930.7" stroke-width="2.2" />
<line x1="2662.0" y1="1936.2" x2="2673.0" y2="1925.2" stroke-width="2.8" />
<line x1="2698.8" y1="1936.2" x2="2709.8" y2="1925.2" stroke-width="2.8" />
<line x1="2704.3" y1="1920.0" x2="2704.3" y2="1940.0" stroke-width="2.2" />
<text transform="translate(2684.0,1926.0) scale(0.86,1)" font-size="35" text-anchor="middle" font-family="Liberation Serif" font-weight="normal" stroke="#000" stroke-width="0.55" >15</text>
<polyline points="2686.7,1869.8 2667.5,1869.8 2660.0,1896.4" stroke-width="2.2" fill="none" />
<text transform="translate(2677.0,1865.0) scale(0.86,1)" font-size="35" text-anchor="middle" font-family="Liberation Serif" font-weight="normal" stroke="#000" stroke-width="0.55" >5</text>
<circle cx="2598.0" cy="1810.6" r="4.5" fill="#000" stroke="none"/>
<polyline points="2598.0,1810.6 2598.0,1692.0 2635.5,1692.0" stroke-width="2.2" fill="none" />
<text transform="translate(0,1703.4)" font-size="34.5" font-family="Liberation Serif" font-weight="normal" stroke="#000" stroke-width="0.45" ><tspan x="2639.6 2674.1 2708.6" y="0">上翻板</tspan></text>
<circle cx="2667.5" cy="1945.0" r="4" fill="#000" stroke="none"/>
<polyline points="2667.5,1945.0 2755.6,2073.0 2781.0,2073.0" stroke-width="2.2" fill="none" />
<text transform="translate(0,2066.7) scale(1,0.93)" font-size="34.7" font-family="Liberation Serif" font-weight="normal" stroke="#000" stroke-width="0.45" ><tspan x="2755.6 2790.3 2825.0 2859.7 2894.4 2929.1" y="0">金茶钢化玻璃</tspan></text>
<text transform="translate(0,2109.5)" font-size="31.5" font-family="Liberation Serif" font-weight="normal" stroke="#000" stroke-width="0.45" ><tspan x="2757.1" y="0" font-size="34.7">(</tspan><tspan x="2770.8 2802.2" y="0">厂供</tspan><tspan x="2835.9" y="0" font-size="34.7">)</tspan></text>
</svg></body></html>
